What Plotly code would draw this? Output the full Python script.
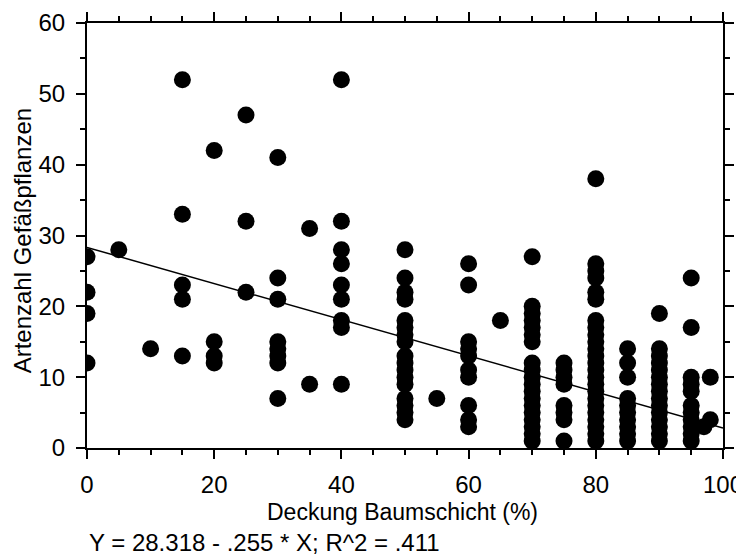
import plotly.graph_objects as go

# Data: tree-layer cover (%) vs. number of vascular plant species
col_0 = [27, 22, 19, 12]
col_5 = [28]
col_10 = [14]
col_15 = [52, 33, 23, 21, 13]
col_20 = [42, 15, 13, 12]
col_25 = [47, 32, 22]
col_30 = [41, 24, 21, 15, 14, 13, 12, 7]
col_35 = [31, 9]
col_40 = [52, 32, 28, 26, 23, 21, 18, 17, 9]
col_50 = [28, 24, 22, 21, 18, 17, 16, 15, 13, 12, 11, 10, 9, 7, 6, 5, 4]
col_55 = [7]
col_60 = [26, 23, 15, 14, 13, 11, 10, 6, 4, 3]
col_65 = [18]
col_70 = [27, 20, 19, 18, 17, 16, 15, 12, 11, 10, 9, 8, 7, 6, 5, 4, 3, 2, 1]
col_75 = [12, 11, 10, 9, 6, 5, 4, 1]
col_80 = [38, 26, 25, 24, 22, 21, 18, 17, 16, 15, 14, 13, 12, 11, 10, 9, 8, 7, 6, 5, 4, 3, 2, 1]
col_85 = [14, 12, 10, 7, 6, 5, 4, 3, 2, 1]
col_90 = [19, 14, 13, 12, 11, 10, 9, 8, 7, 6, 5, 4, 3, 2, 1]
col_95 = [24, 17, 10, 9, 8, 6, 5, 4, 3, 2, 1]
col_97 = [3]
col_98 = [10, 4]

columns = {
    0: col_0, 5: col_5, 10: col_10, 15: col_15, 20: col_20, 25: col_25,
    30: col_30, 35: col_35, 40: col_40, 50: col_50, 55: col_55, 60: col_60,
    65: col_65, 70: col_70, 75: col_75, 80: col_80, 85: col_85, 90: col_90,
    95: col_95, 97: col_97, 98: col_98,
}
cover_pct = [c for c, vals in columns.items() for _ in vals]
species = [v for vals in columns.values() for v in vals]

# Regression line from the reported fit
intercept = 28.318
slope = -0.255
line_x = [0, 100]
line_y = [intercept + slope * v for v in line_x]

x_ticks = [0, 20, 40, 60, 80, 100]
y_ticks = [0, 10, 20, 30, 40, 50, 60]

FONT = "Liberation Sans, Arial, sans-serif"
FS = 24

fig = go.Figure()
fig.add_trace(go.Scatter(
    x=line_x, y=line_y, mode="lines",
    line=dict(color="black", width=1.5), hoverinfo="skip", showlegend=False,
))
fig.add_trace(go.Scatter(
    x=cover_pct, y=species, mode="markers",
    marker=dict(color="black", size=17, line=dict(width=0)), showlegend=False,
))

axis_common = dict(
    showgrid=False, zeroline=False, showline=True, linecolor="black", linewidth=2,
    mirror="allticks", ticks="outside", ticklen=9, tickwidth=1.5, tickcolor="black",
    tickfont=dict(family=FONT, size=FS, color="black"), automargin=False,
)

fig.update_xaxes(
    range=[0, 100], tickvals=x_ticks, ticktext=[str(v) for v in x_ticks],
    minor=dict(dtick=5, tick0=0, ticks="outside", ticklen=5, tickwidth=1.5, tickcolor="black"),
    ticklabelstandoff=5,
    **axis_common,
)
fig.update_yaxes(
    range=[0, 60], tickvals=y_ticks, ticktext=[str(v) for v in y_ticks],
    minor=dict(dtick=5, tick0=0, ticks="outside", ticklen=5, tickwidth=1.5, tickcolor="black"),
    ticklabelstandoff=6,
    **axis_common,
)

fig.add_annotation(
    xref="paper", yref="paper", x=0.496, y=-0.150, xanchor="center", yanchor="middle",
    text="Deckung Baumschicht (%)", showarrow=False,
    font=dict(family=FONT, size=23, color="black"),
)
fig.add_annotation(
    xref="paper", yref="paper", x=-0.101, y=0.488, xanchor="center", yanchor="middle",
    text="Artenzahl Gefäßpflanzen", showarrow=False, textangle=-90,
    font=dict(family=FONT, size=FS, color="black"),
)
fig.add_annotation(
    xref="paper", yref="paper", x=0.0, y=-0.222, xanchor="left", yanchor="middle",
    text="Y = 28.318 - .255 * X; R^2 = .411", showarrow=False,
    font=dict(family=FONT, size=FS, color="black"),
)

# The page body adds an 8 px offset; margins compensate so the plot lands where the reference has it.
fig.update_layout(
    width=736, height=551,
    margin=dict(l=79, r=21, t=15, b=111),
    plot_bgcolor="white", paper_bgcolor="white",
)

fig.write_html("out.html")
